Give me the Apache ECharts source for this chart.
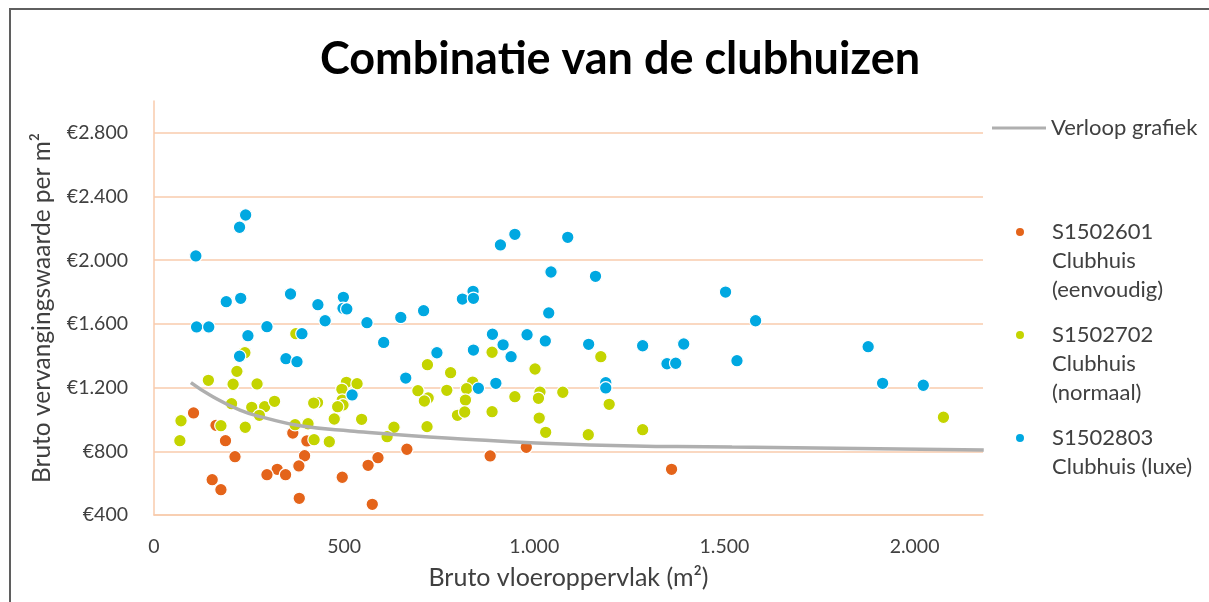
<!DOCTYPE html>
<html>
<head>
<meta charset="utf-8">
<title>Combinatie van de clubhuizen</title>
<script src="https://cdn.jsdelivr.net/npm/echarts@6/dist/echarts.min.js"></script>
<style>
  html, body { margin: 0; padding: 0; background: #fff; }
  #chart { width: 1209px; height: 602px; }
</style>
</head>
<body>
<div id="chart"></div>
<script>
  // tick values of both axes
  var xTicks = [0, 500, 1000, 1500, 2000];
  var yTicks = [400, 800, 1200, 1600, 2000, 2400, 2800];

  // [bruto vloeroppervlak, bruto vervangingswaarde per m2]
  var eenvoudig = [
    [104, 1041], [163, 963], [188, 867], [213, 766], [153, 622], [176, 559],
    [365, 915], [402, 865], [396, 772], [381, 708], [324, 687], [297, 653],
    [346, 653], [382, 505], [495, 637], [563, 712], [589, 760], [574, 467],
    [665, 813], [884, 771], [979, 825], [1361, 687]
  ];
  var normaal = [
    [373, 1539], [239, 1419], [719, 1344], [780, 1294], [218, 1302], [143, 1246],
    [208, 1221], [271, 1223], [506, 1233], [534, 1225], [494, 1189], [694, 1181],
    [770, 1183], [495, 1122], [497, 1091], [483, 1080], [721, 1135], [711, 1116],
    [204, 1099], [257, 1076], [291, 1080], [317, 1114], [430, 1106], [420, 1103],
    [277, 1026], [71, 992], [68, 867], [176, 961], [240, 951], [371, 967],
    [405, 973], [474, 1003], [546, 1001], [421, 873], [461, 860], [631, 951],
    [613, 892], [718, 955], [889, 1422], [1175, 1394], [1002, 1317], [838, 1235],
    [822, 1193], [819, 1122], [798, 1026], [817, 1047], [889, 1049], [949, 1143],
    [1015, 1172], [1011, 1133], [1075, 1171], [1197, 1095], [1013, 1009],
    [1030, 919], [1142, 904], [1285, 936], [2076, 1014]
  ];
  var luxe = [
    [241, 2284], [225, 2207], [110, 2027], [190, 1740], [228, 1761], [359, 1788],
    [431, 1721], [498, 1767], [497, 1698], [507, 1694], [450, 1620], [560, 1608],
    [649, 1641], [709, 1683], [112, 1581], [144, 1581], [297, 1583], [389, 1539],
    [247, 1526], [604, 1484], [744, 1419], [225, 1397], [347, 1382], [376, 1363],
    [662, 1260], [521, 1154], [949, 2163], [911, 2096], [1088, 2144], [1044, 1926],
    [1161, 1899], [1503, 1800], [839, 1805], [811, 1756], [840, 1761], [1038, 1669],
    [890, 1535], [981, 1532], [918, 1469], [1029, 1493], [1143, 1472], [1285, 1463],
    [1393, 1474], [939, 1394], [840, 1436], [1349, 1350], [1372, 1353], [1533, 1369],
    [899, 1227], [853, 1196], [1188, 1231], [1188, 1198], [1582, 1620], [1878, 1457],
    [1916, 1227], [2023, 1215]
  ];
  // trend curve
  var verloop = [
    [97, 1231], [147, 1154], [226, 1059], [297, 1007], [384, 961], [516, 928],
    [779, 882], [1147, 840], [1520, 827], [2182, 808]
  ];

  var FONT = 'Lato';
  var TXT = '#404040';
  var GRID = '#F8CBAD';

  function dots(n) {
    return String(n).replace(/\B(?=(\d{3})+(?!\d))/g, '.');
  }

  function scatter(name, color, data) {
    return {
      name: name,
      type: 'scatter',
      data: data,
      symbolSize: 12.5,
      itemStyle: { color: color, borderColor: '#fff', borderWidth: 1.2, opacity: 1 }
    };
  }

  // dot sits on the first text line: icon box is as tall as the text minus one line
  function dotLegend(name, dotY) {
    var lines = name.split('\n').length;
    var h = 10 + 29 * (lines - 1);
    return {
      data: [name],
      left: 992,
      top: dotY - 14.5,
      padding: 0,
      itemWidth: 54,
      itemHeight: h,
      icon: 'path://M0,0 M54,' + h + ' M22,5 A5,5 0 1 1 32,5 A5,5 0 1 1 22,5 Z',
      selectedMode: false,
      textStyle: { fontFamily: FONT, fontSize: 22, color: TXT, lineHeight: 29 }
    };
  }

  var chart = echarts.init(document.getElementById('chart'));
  chart.setOption({
    animation: false,
    backgroundColor: '#fff',
    title: {
      text: 'Combinatie van de clubhuizen',
      left: 615,
      top: 32,
      textAlign: 'center',
      textStyle: { fontFamily: FONT, fontSize: 45, fontWeight: 'bold', color: '#000' }
    },
    graphic: [{
      type: 'rect',
      shape: { x: 10, y: 9, width: 1300, height: 700 },
      style: { fill: 'none', stroke: '#5f5f5f', lineWidth: 2 }
    }],
    legend: [
      {
        data: ['Verloop grafiek'],
        left: 992,
        top: 113.5,
        padding: 0,
        itemWidth: 54,
        itemHeight: 3,
        icon: 'rect',
        selectedMode: false,
        textStyle: { fontFamily: FONT, fontSize: 22, color: TXT, lineHeight: 29 }
      },
      dotLegend('S1502601\nClubhuis\n(eenvoudig)', 232),
      dotLegend('S1502702\nClubhuis\n(normaal)', 335),
      dotLegend('S1502803\nClubhuis (luxe)', 438)
    ],
    grid: { left: 154, right: 226, top: 101, bottom: 87 },
    xAxis: {
      type: 'value',
      min: xTicks[0],
      max: 2180,
      interval: xTicks[1] - xTicks[0],
      name: 'Bruto vloeroppervlak (m²)',
      nameLocation: 'middle',
      nameGap: 50,
      nameTextStyle: { fontFamily: FONT, fontSize: 25, color: TXT },
      axisLine: { lineStyle: { color: GRID, width: 1.5 } },
      axisTick: { show: false },
      axisLabel: {
        fontFamily: FONT, fontSize: 19.5, color: TXT, margin: 22,
        showMaxLabel: false,
        formatter: function (v) { return dots(v); }
      },
      splitLine: { show: false }
    },
    yAxis: {
      type: 'value',
      min: yTicks[0],
      max: 3000,
      interval: yTicks[1] - yTicks[0],
      name: 'Bruto vervangingswaarde per m²',
      nameLocation: 'middle',
      nameGap: 99,
      nameTextStyle: { fontFamily: FONT, fontSize: 24.5, color: TXT },
      axisLine: { show: true, lineStyle: { color: GRID, width: 1.5 } },
      axisTick: { show: false },
      axisLabel: {
        fontFamily: FONT, fontSize: 19.5, color: TXT, margin: 26,
        showMaxLabel: false,
        formatter: function (v) { return '€' + dots(v); }
      },
      splitLine: { show: true, showMaxLine: false, lineStyle: { color: GRID, width: 1.5 } }
    },
    series: [
      {
        name: 'Verloop grafiek',
        type: 'line',
        data: verloop,
        smooth: true,
        symbol: 'none',
        lineStyle: { color: '#AFAFAF', width: 3.5 },
        itemStyle: { color: '#AFAFAF' }
      },
      scatter('S1502601\nClubhuis\n(eenvoudig)', '#E4641A', eenvoudig),
      scatter('S1502702\nClubhuis\n(normaal)', '#C4D400', normaal),
      scatter('S1502803\nClubhuis (luxe)', '#00A8E1', luxe)
    ]
  });
</script>
</body>
</html>
